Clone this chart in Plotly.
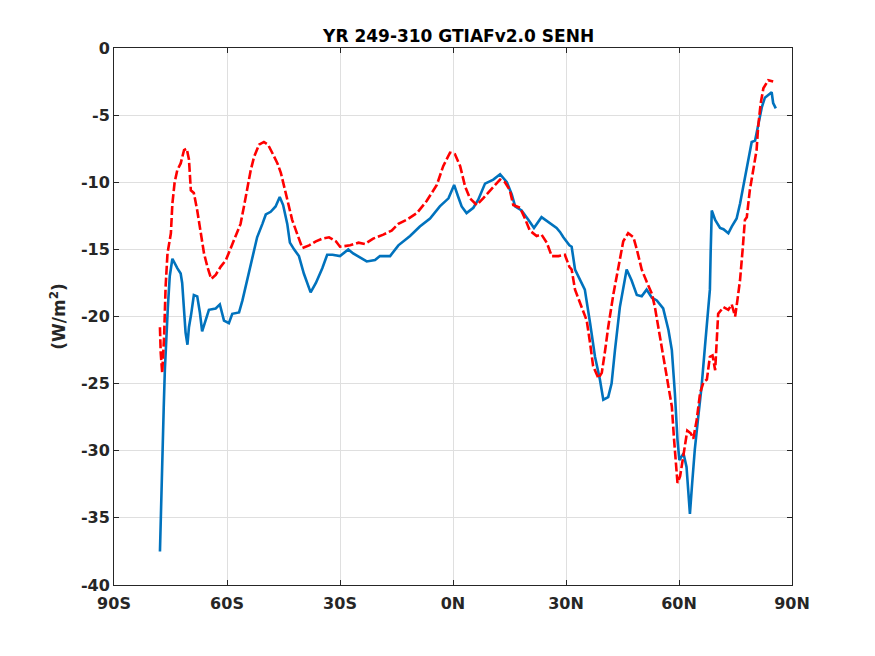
import plotly.graph_objects as go

# latitude (deg, S negative) and values (W/m2)
lat_blue = [-77.8, -77.6, -77.3, -77.0, -76.8, -76.5, -76.1, -75.7, -75.2, -74.5,
            -73.2, -72.3, -71.9, -71.4, -71.0, -70.5, -70.1, -69.5, -68.8, -67.9,
            -67.2, -66.6, -65.7, -64.8, -63.0, -61.9, -60.8, -59.5, -58.6, -56.8,
            -55.9, -54.6, -53.3, -52.0, -50.6, -49.7, -48.4, -47.1, -46.0, -45.1,
            -44.0, -43.3, -42.2, -40.9, -39.6, -37.8, -36.4, -34.7, -33.4, -32.0,
            -30.0, -27.8, -26.5, -24.7, -22.9, -20.7, -19.4, -16.7, -14.5, -11.4,
            -8.8, -6.1, -3.5, -1.2, 0.3, 1.4, 2.3, 3.6, 5.4, 6.7,
            8.5, 10.7, 12.5, 14.3, 15.6, 16.5, 18.2, 20.0, 21.5, 23.5,
            25.8, 27.5, 28.4, 29.3, 30.9, 31.5, 32.4, 35.0, 36.4, 37.7,
            39.0, 39.9, 41.2, 42.1, 43.0, 44.3, 46.1, 47.4, 48.8, 50.1,
            51.4, 52.8, 54.1, 55.8, 57.2, 58.1, 58.9, 59.6, 60.1, 61.2,
            62.0, 62.9, 63.5, 64.2, 65.1, 66.0, 66.9, 67.5, 68.2, 68.4,
            68.7, 69.6, 70.9, 71.8, 73.1, 74.0, 75.3, 76.2, 77.1, 78.4,
            79.3, 80.2, 81.0, 82.0, 82.8, 83.7, 84.6, 85.0, 85.7]
senh_blue = [-37.5, -34.9, -32.3, -29.6, -26.8, -24.0, -21.2, -19.3, -17.0, -15.7,
             -16.4, -16.8, -17.5, -19.3, -21.2, -22.1, -20.8, -19.8, -18.4, -18.5,
             -19.7, -21.1, -20.3, -19.5, -19.4, -19.1, -20.3, -20.5, -19.8, -19.7,
             -18.8, -17.3, -15.8, -14.1, -13.1, -12.4, -12.2, -11.8, -11.1, -11.7,
             -13.1, -14.5, -15.0, -15.5, -16.8, -18.2, -17.5, -16.4, -15.4, -15.4,
             -15.5, -15.0, -15.3, -15.6, -15.9, -15.8, -15.5, -15.5, -14.7, -14.0,
             -13.3, -12.7, -11.8, -11.2, -10.2, -11.1, -11.8, -12.3, -11.9, -11.3,
             -10.1, -9.8, -9.4, -10.0, -10.9, -11.8, -12.1, -12.8, -13.4, -12.6,
             -13.1, -13.4, -13.7, -14.1, -14.7, -14.8, -16.5, -18.0, -20.5, -23.0,
             -24.7, -26.2, -26.0, -25.0, -22.5, -19.3, -16.5, -17.3, -18.4, -18.5,
             -18.0, -18.6, -18.8, -19.4, -21.0, -22.5, -25.7, -29.2, -30.7, -30.2,
             -31.2, -34.7, -32.4, -29.9, -27.5, -25.2, -22.2, -20.5, -18.0, -15.3,
             -12.1, -12.8, -13.4, -13.5, -13.8, -13.3, -12.7, -11.6, -10.2, -8.3,
             -7.0, -6.9, -5.7, -4.4, -3.7, -3.5, -3.3, -4.1, -4.5]

lat_red = [-77.8, -77.6, -77.2, -76.7, -76.3, -75.8, -74.9, -74.5, -73.9, -73.2,
           -72.3, -71.4, -70.7, -70.1, -69.6, -68.8, -67.9, -67.0, -66.1, -65.2,
           -64.2, -63.0, -61.7, -60.3, -59.0, -57.7, -56.4, -55.5, -54.6, -53.7,
           -52.8, -51.5, -50.2, -49.1, -48.0, -46.6, -45.7, -44.9, -44.0, -42.7,
           -41.3, -40.0, -38.2, -36.4, -34.7, -32.9, -31.1, -30.0, -27.3, -25.1,
           -23.4, -21.2, -18.5, -16.3, -14.5, -12.3, -9.6, -7.0, -4.3, -2.6,
           -0.8, 0.5, 1.9, 3.2, 4.5, 6.3, 8.0, 10.3, 12.5, 13.8,
           15.1, 16.0, 17.8, 19.1, 20.4, 22.2, 23.5, 24.9, 26.2, 28.0,
           29.7, 30.9, 31.5, 32.4, 34.2, 35.5, 36.4, 37.2, 38.6, 39.5,
           40.4, 41.2, 42.6, 43.9, 45.2, 46.5, 47.9, 48.8, 50.1, 51.4,
           52.8, 53.6, 54.5, 55.4, 56.3, 57.2, 58.1, 58.7, 59.6, 60.3,
           61.2, 62.2, 63.1, 63.8, 64.7, 65.6, 66.5, 67.4, 68.2, 68.9,
           69.6, 70.0, 70.4, 71.8, 73.1, 74.0, 74.9, 75.5, 76.2, 76.9,
           77.5, 78.0, 78.8, 79.7, 80.6, 81.0, 81.7, 82.4, 83.7, 85.0]
senh_red = [-20.8, -22.7, -24.2, -21.5, -17.8, -15.3, -13.8, -11.6, -10.0, -9.1,
            -8.6, -7.6, -7.5, -8.3, -10.6, -10.8, -12.1, -13.6, -15.3, -16.3,
            -17.2, -16.9, -16.3, -15.8, -14.9, -14.1, -13.1, -11.8, -10.3, -9.1,
            -8.1, -7.2, -7.0, -7.2, -7.8, -8.6, -9.3, -10.2, -11.3, -12.8,
            -13.9, -14.9, -14.7, -14.4, -14.2, -14.1, -14.4, -14.8, -14.7, -14.5,
            -14.6, -14.2, -13.9, -13.6, -13.1, -12.8, -12.3, -11.4, -10.2, -8.8,
            -7.8, -7.9, -8.8, -10.3, -11.2, -11.7, -11.2, -10.5, -9.8, -10.0,
            -10.6, -11.7, -11.9, -12.7, -13.6, -14.0, -13.9, -14.5, -15.5, -15.5,
            -15.4, -16.3, -16.5, -18.0, -19.3, -20.3, -22.0, -23.7, -24.6, -24.2,
            -22.5, -20.8, -18.3, -16.3, -14.4, -13.8, -14.1, -15.0, -16.5, -17.4,
            -18.3, -19.3, -20.8, -22.2, -23.7, -25.0, -26.7, -29.2, -32.4, -31.9,
            -30.2, -28.5, -28.7, -29.1, -27.7, -25.7, -24.9, -24.7, -23.0, -22.9,
            -24.0, -21.3, -19.8, -19.3, -19.5, -19.1, -20.0, -18.8, -17.3, -15.0,
            -12.8, -12.6, -10.6, -9.1, -7.6, -5.9, -4.1, -3.0, -2.4, -2.5]

x_ticks = [-90, -60, -30, 0, 30, 60, 90]
x_labels = ['90S', '60S', '30S', '0N', '30N', '60N', '90N']
y_ticks = [-40, -35, -30, -25, -20, -15, -10, -5, 0]
y_labels = ['-40', '-35', '-30', '-25', '-20', '-15', '-10', '-5', '0']

fig = go.Figure()

fig.add_trace(go.Scatter(x=lat_blue, y=senh_blue, mode='lines',
                         line=dict(color='#0072BD', width=2.6),
                         showlegend=False))
fig.add_trace(go.Scatter(x=lat_red, y=senh_red, mode='lines',
                         line=dict(color='#FF0000', width=2.6, dash='9px,3px'),
                         showlegend=False))

axis_style = dict(showline=True, linecolor='#262626', linewidth=1, mirror='ticks',
                  ticks='inside', ticklen=5, tickcolor='#262626',
                  showgrid=True, gridcolor='#DFDFDF', gridwidth=1,
                  zeroline=False,
                  tickfont=dict(family='DejaVu Sans', size=16, color='#262626'))

fig.update_xaxes(range=[-90, 90], tickvals=x_ticks, ticktext=['<b>%s</b>' % t for t in x_labels],
                 ticklabelstandoff=4, **axis_style)
fig.update_yaxes(range=[-40, 0], tickvals=y_ticks, ticktext=['<b>%s</b>' % t for t in y_labels],
                 title=dict(text='<b>(W/m<sup>2</sup>)</b>', standoff=10,
                            font=dict(family='DejaVu Sans', size=17, color='#262626')),
                 **axis_style)

# page adds an 8px offset, so margins are trimmed to land the box at 114..792 x 48..585
fig.update_layout(
    width=875, height=656,
    margin=dict(l=106, r=91, t=40, b=79),
    paper_bgcolor='white', plot_bgcolor='white',
    title=dict(text='<b>YR 249-310 GTIAFv2.0 SENH</b>', x=0.515, xanchor='center',
               y=0.957, yanchor='middle',
               font=dict(family='DejaVu Sans', size=17, color='black')),
)

fig.write_html("out.html")
